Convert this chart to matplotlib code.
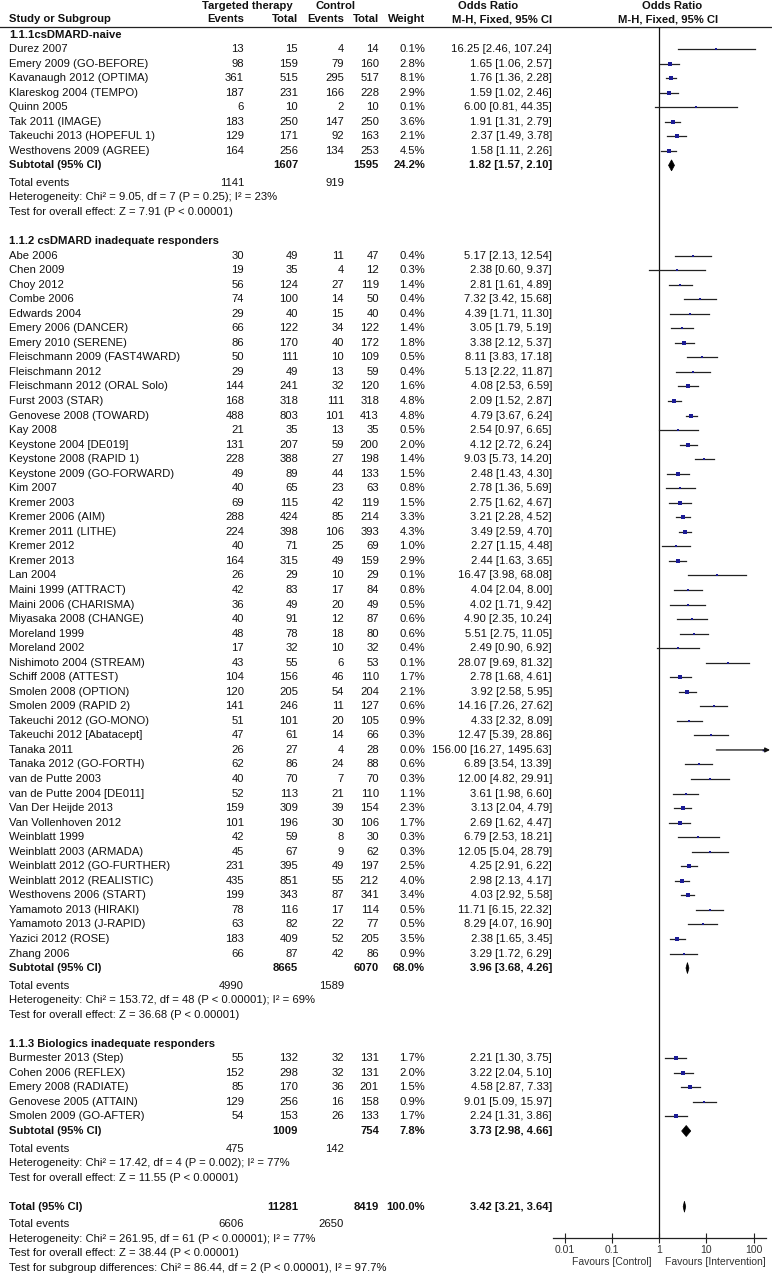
import matplotlib
matplotlib.use('Agg')
import matplotlib.pyplot as plt
import numpy as np
from matplotlib.patches import Polygon
from matplotlib.ticker import FixedLocator, NullLocator

plt.rcParams['font.family'] = ['Liberation Sans', 'DejaVu Sans']

# ---- study level data ----
group = [0] * 8 + [1] * 49 + [2] * 5
study = [
    'Durez 2007', 'Emery 2009 (GO-BEFORE)', 'Kavanaugh 2012 (OPTIMA)', 'Klareskog 2004 (TEMPO)',
    'Quinn 2005', 'Tak 2011 (IMAGE)', 'Takeuchi 2013 (HOPEFUL 1)', 'Westhovens 2009 (AGREE)',
    'Abe 2006', 'Chen 2009', 'Choy 2012', 'Combe 2006', 'Edwards 2004', 'Emery 2006 (DANCER)',
    'Emery 2010 (SERENE)', 'Fleischmann 2009 (FAST4WARD)', 'Fleischmann 2012',
    'Fleischmann 2012 (ORAL Solo)', 'Furst 2003 (STAR)', 'Genovese 2008 (TOWARD)', 'Kay 2008',
    'Keystone 2004 [DE019]', 'Keystone 2008 (RAPID 1)', 'Keystone 2009 (GO-FORWARD)', 'Kim 2007',
    'Kremer 2003', 'Kremer 2006 (AIM)', 'Kremer 2011 (LITHE)', 'Kremer 2012', 'Kremer 2013',
    'Lan 2004', 'Maini 1999 (ATTRACT)', 'Maini 2006 (CHARISMA)', 'Miyasaka 2008 (CHANGE)',
    'Moreland 1999', 'Moreland 2002', 'Nishimoto 2004 (STREAM)', 'Schiff 2008 (ATTEST)',
    'Smolen 2008 (OPTION)', 'Smolen 2009 (RAPID 2)', 'Takeuchi 2012 (GO-MONO)',
    'Takeuchi 2012 [Abatacept]', 'Tanaka 2011', 'Tanaka 2012 (GO-FORTH)', 'van de Putte 2003',
    'van de Putte 2004 [DE011]', 'Van Der Heijde 2013', 'Van Vollenhoven 2012', 'Weinblatt 1999',
    'Weinblatt 2003 (ARMADA)', 'Weinblatt 2012 (GO-FURTHER)', 'Weinblatt 2012 (REALISTIC)',
    'Westhovens 2006 (START)', 'Yamamoto 2013 (HIRAKI)', 'Yamamoto 2013 (J-RAPID)',
    'Yazici 2012 (ROSE)', 'Zhang 2006',
    'Burmester 2013 (Step)', 'Cohen 2006 (REFLEX)', 'Emery 2008 (RADIATE)',
    'Genovese 2005 (ATTAIN)', 'Smolen 2009 (GO-AFTER)',
]
ev_t = [13, 98, 361, 187, 6, 183, 129, 164,
        30, 19, 56, 74, 29, 66, 86, 50, 29, 144, 168, 488, 21, 131, 228, 49, 40, 69, 288, 224, 40,
        164, 26, 42, 36, 40, 48, 17, 43, 104, 120, 141, 51, 47, 26, 62, 40, 52, 159, 101, 42, 45,
        231, 435, 199, 78, 63, 183, 66,
        55, 152, 85, 129, 54]
n_t = [15, 159, 515, 231, 10, 250, 171, 256,
       49, 35, 124, 100, 40, 122, 170, 111, 49, 241, 318, 803, 35, 207, 388, 89, 65, 115, 424, 398,
       71, 315, 29, 83, 49, 91, 78, 32, 55, 156, 205, 246, 101, 61, 27, 86, 70, 113, 309, 196, 59,
       67, 395, 851, 343, 116, 82, 409, 87,
       132, 298, 170, 256, 153]
ev_c = [4, 79, 295, 166, 2, 147, 92, 134,
        11, 4, 27, 14, 15, 34, 40, 10, 13, 32, 111, 101, 13, 59, 27, 44, 23, 42, 85, 106, 25, 49,
        10, 17, 20, 12, 18, 10, 6, 46, 54, 11, 20, 14, 4, 24, 7, 21, 39, 30, 8, 9, 49, 55, 87, 17,
        22, 52, 42,
        32, 32, 36, 16, 26]
n_c = [14, 160, 517, 228, 10, 250, 163, 253,
       47, 12, 119, 50, 40, 122, 172, 109, 59, 120, 318, 413, 35, 200, 198, 133, 63, 119, 214, 393,
       69, 159, 29, 84, 49, 87, 80, 32, 53, 110, 204, 127, 105, 66, 28, 88, 70, 110, 154, 106, 30,
       62, 197, 212, 341, 114, 77, 205, 86,
       131, 131, 201, 158, 133]
weight = [0.1, 2.8, 8.1, 2.9, 0.1, 3.6, 2.1, 4.5,
          0.4, 0.3, 1.4, 0.4, 0.4, 1.4, 1.8, 0.5, 0.4, 1.6, 4.8, 4.8, 0.5, 2.0, 1.4, 1.5, 0.8, 1.5,
          3.3, 4.3, 1.0, 2.9, 0.1, 0.8, 0.5, 0.6, 0.6, 0.4, 0.1, 1.7, 2.1, 0.6, 0.9, 0.3, 0.0, 0.6,
          0.3, 1.1, 2.3, 1.7, 0.3, 0.3, 2.5, 4.0, 3.4, 0.5, 0.5, 3.5, 0.9,
          1.7, 2.0, 1.5, 0.9, 1.7]
or_est = [16.25, 1.65, 1.76, 1.59, 6.00, 1.91, 2.37, 1.58,
          5.17, 2.38, 2.81, 7.32, 4.39, 3.05, 3.38, 8.11, 5.13, 4.08, 2.09, 4.79, 2.54, 4.12, 9.03,
          2.48, 2.78, 2.75, 3.21, 3.49, 2.27, 2.44, 16.47, 4.04, 4.02, 4.90, 5.51, 2.49, 28.07,
          2.78, 3.92, 14.16, 4.33, 12.47, 156.00, 6.89, 12.00, 3.61, 3.13, 2.69, 6.79, 12.05,
          4.25, 2.98, 4.03, 11.71, 8.29, 2.38, 3.29,
          2.21, 3.22, 4.58, 9.01, 2.24]
or_lo = [2.46, 1.06, 1.36, 1.02, 0.81, 1.31, 1.49, 1.11,
         2.13, 0.60, 1.61, 3.42, 1.71, 1.79, 2.12, 3.83, 2.22, 2.53, 1.52, 3.67, 0.97, 2.72, 5.73,
         1.43, 1.36, 1.62, 2.28, 2.59, 1.15, 1.63, 3.98, 2.04, 1.71, 2.35, 2.75, 0.90, 9.69, 1.68,
         2.58, 7.26, 2.32, 5.39, 16.27, 3.54, 4.82, 1.98, 2.04, 1.62, 2.53, 5.04, 2.91, 2.13,
         2.92, 6.15, 4.07, 1.65, 1.72,
         1.30, 2.04, 2.87, 5.09, 1.31]
or_hi = [107.24, 2.57, 2.28, 2.46, 44.35, 2.79, 3.78, 2.26,
         12.54, 9.37, 4.89, 15.68, 11.30, 5.19, 5.37, 17.18, 11.87, 6.59, 2.87, 6.24, 6.65, 6.24,
         14.20, 4.30, 5.69, 4.67, 4.52, 4.70, 4.48, 3.65, 68.08, 8.00, 9.42, 10.24, 11.05, 6.92,
         81.32, 4.61, 5.95, 27.62, 8.09, 28.86, 1495.63, 13.39, 29.91, 6.60, 4.79, 4.47, 18.21,
         28.79, 6.22, 4.17, 5.58, 22.32, 16.90, 3.45, 6.29,
         3.75, 5.10, 7.33, 15.97, 3.86]

# ---- subgroup summaries ----
sub_title = ['1.1.1csDMARD-naive', '1.1.2 csDMARD inadequate responders',
             '1.1.3 Biologics inadequate responders']
sub_n_t = [1607, 8665, 1009]
sub_n_c = [1595, 6070, 754]
sub_weight = [24.2, 68.0, 7.8]
sub_or = [1.82, 3.96, 3.73]
sub_lo = [1.57, 3.68, 2.98]
sub_hi = [2.10, 4.26, 4.66]
sub_ev_t = [1141, 4990, 475]
sub_ev_c = [919, 1589, 142]
sub_het = ['Heterogeneity: Chi\u00b2 = 9.05, df = 7 (P = 0.25); I\u00b2 = 23%',
           'Heterogeneity: Chi\u00b2 = 153.72, df = 48 (P < 0.00001); I\u00b2 = 69%',
           'Heterogeneity: Chi\u00b2 = 17.42, df = 4 (P = 0.002); I\u00b2 = 77%']
sub_z = ['Test for overall effect: Z = 7.91 (P < 0.00001)',
         'Test for overall effect: Z = 36.68 (P < 0.00001)',
         'Test for overall effect: Z = 11.55 (P < 0.00001)']

# ---- overall ----
tot_n = [11281, 8419]
tot_weight = 100.0
tot_or, tot_lo, tot_hi = 3.42, 3.21, 3.64
tot_ev = [6606, 2650]
tot_het = 'Heterogeneity: Chi\u00b2 = 261.95, df = 61 (P < 0.00001); I\u00b2 = 77%'
tot_z = 'Test for overall effect: Z = 38.44 (P < 0.00001)'
tot_sub = 'Test for subgroup differences: Chi\u00b2 = 86.44, df = 2 (P < 0.00001), I\u00b2 = 97.7%'

tick_vals = [0.01, 0.1, 1, 10, 100]
tick_text = ['0.01', '0.1', '1', '10', '100']

# ---- layout (pixels) ----
W, H = 772, 1275
FS = 8.1
FS_AX = 7.5
S = 14.54
x_one, dec = 659.3, 47.1
ax_l, ax_r = 552.7, 766.0
top_px, bot_px = 26.5, 1238.0
col_evt, col_nt, col_evc, col_nc, col_w, col_or = 244, 298, 344, 379, 425, 552
ink = '#111111'
sq_col = '#1c1c96'

fig = plt.figure(figsize=(W / 100, H / 100), dpi=100)
tx = fig.add_axes([0, 0, 1, 1])
tx.set_xlim(0, W)
tx.set_ylim(H, 0)
tx.axis('off')

ax = fig.add_axes([ax_l / W, 1 - bot_px / H, (ax_r - ax_l) / W, (bot_px - top_px) / H])
ax.set_xscale('log')
xmin = 10 ** ((ax_l - x_one) / dec)
xmax = 10 ** ((ax_r - x_one) / dec)
ax.set_xlim(xmin, xmax)
ax.set_ylim(bot_px, top_px)
ax.patch.set_alpha(0)
for s in ['top', 'left', 'right']:
    ax.spines[s].set_visible(False)
ax.spines['bottom'].set_linewidth(0.9)
ax.spines['bottom'].set_color('#222222')
ax.xaxis.set_major_locator(FixedLocator(tick_vals))
ax.xaxis.set_minor_locator(NullLocator())
ax.set_xticklabels(tick_text)
ax.tick_params(axis='x', direction='inout', length=7, width=0.8, color='#222222',
               labelsize=FS_AX, labelcolor='#333333', pad=1.5)
ax.set_yticks([])
ax.axvline(1, color='#111111', lw=0.9)


def put(x, y, s, ha='right', bold=False):
    tx.text(x, y, s, ha=ha, va='center', fontsize=FS, color=ink,
            fontweight='bold' if bold else 'normal')


def ci_text(o, lo, hi):
    return '%.2f [%.2f, %.2f]' % (o, lo, hi)


def diamond(o, lo, hi, y, h=5.5):
    ax.add_patch(Polygon([(lo, y), (o, y - h), (hi, y), (o, y + h)], closed=True,
                         facecolor='black', edgecolor='black', lw=0.5))


# header
put(247, 6, 'Targeted therapy', ha='center', bold=True)
put(336, 6, 'Control', ha='center', bold=True)
put(488, 6, 'Odds Ratio', ha='center', bold=True)
put(672, 6, 'Odds Ratio', ha='center', bold=True)
put(9, 19.5, 'Study or Subgroup', ha='left', bold=True)
put(col_evt, 19.5, 'Events', bold=True)
put(col_nt, 19.5, 'Total', bold=True)
put(col_evc, 19.5, 'Events', bold=True)
put(col_nc, 19.5, 'Total', bold=True)
put(col_w, 19.5, 'Weight', bold=True)
put(col_or, 19.5, 'M-H, Fixed, 95% CI', bold=True)
put(668, 19.5, 'M-H, Fixed, 95% CI', ha='center', bold=True)
tx.plot([0, W], [top_px, top_px], color='#222222', lw=0.9)

arrow_end = 10 ** ((770 - x_one) / dec)
y = 34.5
for g in range(3):
    put(9, y, sub_title[g], ha='left', bold=True)
    for i in [k for k in range(len(study)) if group[k] == g]:
        y += S
        put(9, y, study[i], ha='left')
        put(col_evt, y, str(ev_t[i]))
        put(col_nt, y, str(n_t[i]))
        put(col_evc, y, str(ev_c[i]))
        put(col_nc, y, str(n_c[i]))
        put(col_w, y, '%.1f%%' % weight[i])
        put(col_or, y, ci_text(or_est[i], or_lo[i], or_hi[i]))
        if or_hi[i] > xmax:
            ax.annotate('', xy=(arrow_end, y), xytext=(or_lo[i], y), annotation_clip=False,
                        arrowprops=dict(arrowstyle='-|>', lw=0.9, color='#111111',
                                        mutation_scale=7, shrinkA=0, shrinkB=0))
        else:
            ax.plot([or_lo[i], or_hi[i]], [y, y], color='#222222', lw=0.9)
        side = 1.8 + 1.0 * np.sqrt(weight[i])
        ax.plot([or_est[i]], [y], marker='s', ms=side * 0.72, color=sq_col, mec=sq_col,
                mew=0, clip_on=False)
    y += S
    put(9, y, 'Subtotal (95% CI)', ha='left', bold=True)
    put(col_nt, y, str(sub_n_t[g]), bold=True)
    put(col_nc, y, str(sub_n_c[g]), bold=True)
    put(col_w, y, '%.1f%%' % sub_weight[g], bold=True)
    put(col_or, y, ci_text(sub_or[g], sub_lo[g], sub_hi[g]), bold=True)
    diamond(sub_or[g], sub_lo[g], sub_hi[g], y)
    y += S + 3
    put(9, y, 'Total events', ha='left')
    put(col_evt, y, str(sub_ev_t[g]))
    put(col_evc, y, str(sub_ev_c[g]))
    y += S
    put(9, y, sub_het[g], ha='left')
    y += S
    put(9, y, sub_z[g], ha='left')
    y += 2 * S

# overall
put(9, y, 'Total (95% CI)', ha='left', bold=True)
put(col_nt, y, str(tot_n[0]), bold=True)
put(col_nc, y, str(tot_n[1]), bold=True)
put(col_w, y, '%.1f%%' % tot_weight, bold=True)
put(col_or, y, ci_text(tot_or, tot_lo, tot_hi), bold=True)
diamond(tot_or, tot_lo, tot_hi, y)
y += S + 3
put(9, y, 'Total events', ha='left')
put(col_evt, y, str(tot_ev[0]))
put(col_evc, y, str(tot_ev[1]))
y += S
put(9, y, tot_het, ha='left')
y += S
put(9, y, tot_z, ha='left')
y += S
put(9, y, tot_sub, ha='left')

tx.text(652, 1262, 'Favours [Control]', ha='right', va='center', fontsize=FS_AX, color='#333333')
tx.text(665, 1262, 'Favours [Intervention]', ha='left', va='center', fontsize=FS_AX,
        color='#333333')

fig.savefig('out.png', dpi=100)
